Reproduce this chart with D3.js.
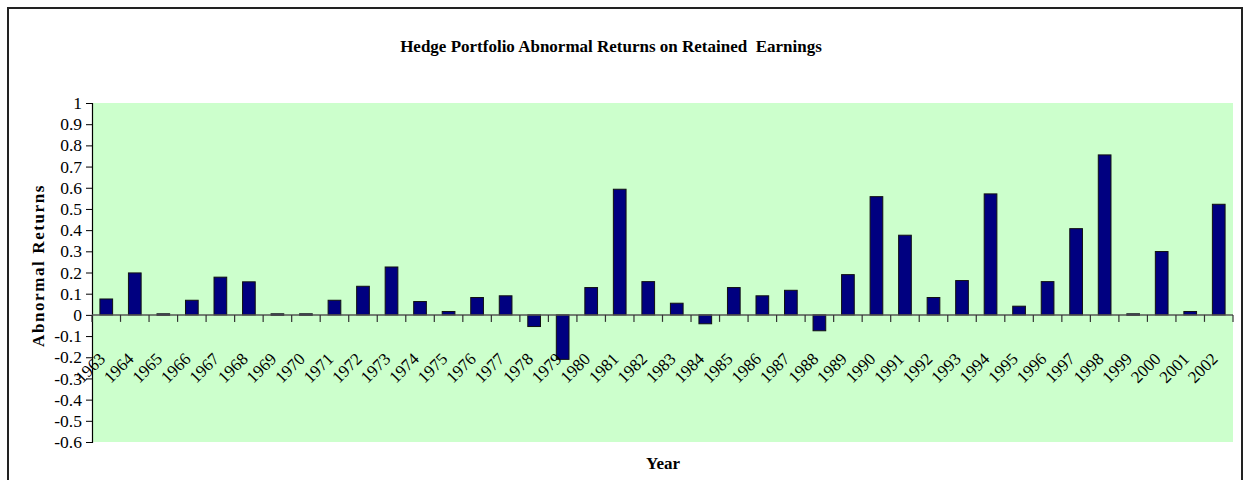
<!DOCTYPE html>
<html>
<head>
<meta charset="utf-8">
<script src="https://cdn.jsdelivr.net/npm/d3@7"></script>
<style>
  body { margin: 0; background: #fff; }
  text { font-family: "Liberation Serif", "Times New Roman", serif; }
</style>
</head>
<body>
<script>
const years = [
  "1963","1964","1965","1966","1967","1968","1969","1970","1971","1972",
  "1973","1974","1975","1976","1977","1978","1979","1980","1981","1982",
  "1983","1984","1985","1986","1987","1988","1989","1990","1991","1992",
  "1993","1994","1995","1996","1997","1998","1999","2000","2001","2002"
]

const returns = [
  0.075, 0.198, 0.005, 0.069, 0.178, 0.156, 0.005, 0.005, 0.069, 0.135,
  0.226, 0.063, 0.016, 0.082, 0.090, -0.055, -0.210, 0.129, 0.593, 0.157,
  0.055, -0.042, 0.129, 0.090, 0.116, -0.075, 0.190, 0.558, 0.376, 0.082,
  0.162, 0.571, 0.041, 0.157, 0.407, 0.755, 0.005, 0.299, 0.016, 0.522
]

const yTicks = [1,0.9,0.8,0.7,0.6,0.5,0.4,0.3,0.2,0.1,0,-0.1,-0.2,-0.3,-0.4,-0.5,-0.6]

const W = 1250, H = 480
const plot = {left: 92, right: 1233, top: 103, bottom: 442}

const svg = d3.select("body").append("svg")
  .attr("width", W)
  .attr("height", H)

// outer chart border
svg.append("rect")
  .attr("x", 8).attr("y", 8)
  .attr("width", 1234).attr("height", 480)
  .attr("fill", "#fff")
  .attr("stroke", "#222")
  .attr("stroke-width", 2)

const x = d3.scaleBand()
  .domain(years)
  .range([plot.left, plot.right])
  .paddingInner(0.555)
  .paddingOuter(0.2775)

const xEdge = d3.scaleLinear()
  .domain([0, years.length])
  .range([plot.left, plot.right])

const y = d3.scaleLinear()
  .domain([-0.6, 1])
  .range([plot.bottom, plot.top])

// plot background
svg.append("rect")
  .attr("x", plot.left).attr("y", plot.top)
  .attr("width", plot.right - plot.left)
  .attr("height", plot.bottom - plot.top)
  .attr("fill", "#ccffcc")

// y axis
const yAxis = d3.axisLeft(y)
  .tickValues(yTicks)
  .tickSize(6)
  .tickFormat(d => String(+d.toFixed(1)))

const gy = svg.append("g")
  .attr("transform", `translate(${plot.left},0)`)
  .call(yAxis)
  .attr("font-family", "Liberation Serif")
gy.select(".domain").attr("stroke", "#000").attr("stroke-width", 1.2)
gy.selectAll(".tick line").attr("stroke", "#000")
gy.selectAll(".tick text")
  .attr("x", -10)
  .attr("font-size", 17.5)
  .attr("font-family", "Liberation Serif")
  .attr("fill", "#000")

// bars
svg.selectAll("rect.bar")
  .data(returns)
  .enter()
  .append("rect")
  .attr("class", "bar")
  .attr("x", (d,i) => x(years[i]))
  .attr("width", x.bandwidth())
  .attr("y", d => y(Math.max(0, d)))
  .attr("height", d => Math.max(1.5, Math.abs(y(d) - y(0))))
  .attr("fill", "#000080")
  .attr("stroke", "#111")
  .attr("stroke-width", 1)

// x axis along zero
const gx = svg.append("g")
gx.append("line")
  .attr("x1", plot.left).attr("x2", plot.right)
  .attr("y1", y(0)).attr("y2", y(0))
  .attr("stroke", "#555")
  .attr("stroke-width", 1.5)

gx.selectAll("line.tick")
  .data(d3.range(years.length + 1))
  .enter()
  .append("line")
  .attr("class", "tick")
  .attr("x1", d => xEdge(d)).attr("x2", d => xEdge(d))
  .attr("y1", y(0)).attr("y2", y(0) + 7)
  .attr("stroke", "#333")
  .attr("stroke-width", 1.2)

gx.selectAll("text.yr")
  .data(years)
  .enter()
  .append("text")
  .attr("class", "yr")
  .attr("text-anchor", "end")
  .attr("font-size", 17)
  .attr("font-family", "Liberation Serif")
  .attr("transform", d => `translate(${x(d) + x.bandwidth()/2},${y(0) + 45}) rotate(-45)`)
  .text(d => d)

// title
svg.append("text")
  .attr("x", 611)
  .attr("y", 52)
  .attr("text-anchor", "middle")
  .attr("font-size", 17)
  .attr("font-weight", "bold")
  .attr("xml:space", "preserve")
  .text("Hedge Portfolio Abnormal Returns on Retained  Earnings")

// x axis title
svg.append("text")
  .attr("x", 663)
  .attr("y", 469)
  .attr("text-anchor", "middle")
  .attr("font-size", 17)
  .attr("font-weight", "bold")
  .text("Year")

// y axis title, clipped like the original
svg.append("clipPath")
  .attr("id", "yclip")
  .append("rect")
  .attr("x", 18).attr("y", 182).attr("width", 40).attr("height", 180)

svg.append("g")
  .attr("clip-path", "url(#yclip)")
  .append("text")
  .attr("transform", "translate(44,347) rotate(-90)")
  .attr("text-anchor", "start")
  .attr("font-size", 17)
  .attr("font-weight", "bold")
  .attr("letter-spacing", 1.6)
  .text("Abnormal Returns")
</script>
</body>
</html>
